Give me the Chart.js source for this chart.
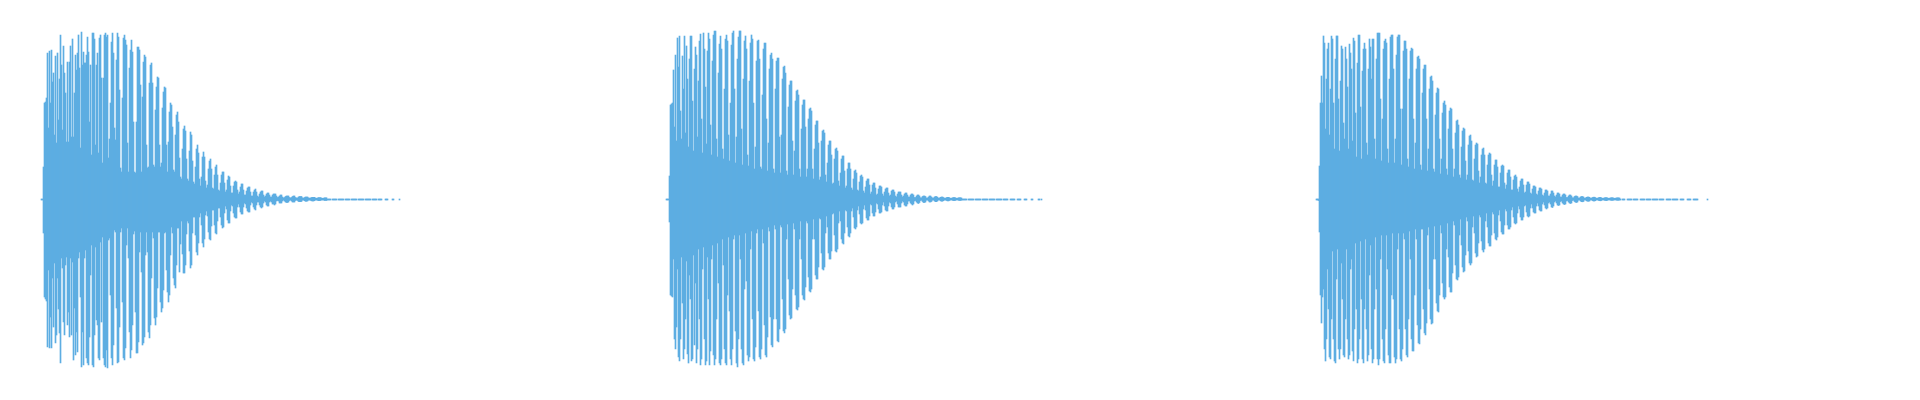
<!DOCTYPE html>
<html>
<head>
<meta charset="utf-8">
<script src="https://cdn.jsdelivr.net/npm/chart.js@4/dist/chart.umd.min.js"></script>
<style>
  html, body { margin: 0; padding: 0; background: #ffffff; }
  #wrap { width: 1920px; height: 400px; }
</style>
</head>
<body>
<div id="wrap"><canvas id="c" width="1920" height="400"></canvas></div>
<script>
// ---- data: three drum hits, per-sample-column peak amplitudes (up = top, down = bottom) ----
const sampleCount = 1920;
const hitStarts = [41, 666, 1316];

const hit1Top = [
0,0,32,96,97,101,146,71,148,96,
149,117,126,64,143,56,146,79,120,164,
134,69,153,126,106,57,137,57,137,153,
62,160,62,106,144,129,146,164,131,51,
167,134,147,136,136,144,162,147,77,134,
44,166,166,160,54,134,146,46,161,164,
121,36,121,164,166,162,164,41,60,96,
157,166,146,71,59,139,166,162,109,31,
27,101,161,164,159,154,56,27,131,149,
159,147,77,27,26,77,152,152,149,114,
27,102,137,144,142,54,31,32,116,134,
136,116,34,32,89,112,122,121,54,32,
36,91,107,112,111,54,27,57,87,96,
94,72,29,27,64,84,87,77,41,22,
20,50,70,73,68,40,20,18,48,67,
64,38,17,15,32,50,54,46,20,13,
22,42,47,42,18,11,14,30,38,40,
30,11,10,24,32,34,24,9,8,16,
24,27,27,16,7,9,19,23,22,13,
6,6,13,17,18,17,9,5,7,12,
15,15,9,4,4,8,11,12,12,7,
3,3,7,9,10,7,3,2,5,7,
8,8,4,2,3,5,6,6,4,2,
2,4,5,5,5,3,1.5,2,3,4,
4,2,1,1.5,2.5,3,3,3,1.5,1,
1.5,2.5,3,3,1.5,1,1,2,2.5,2.5,
2.5,1.2,0.8,1.5,2,2,2,1.2,0.8,1,
1.5,1.7,1.7,1.7,1,0.7,1,1.4,1.4,1.4,
1,0.7,0.8,1.2,1.2,1.2,0,0,0,0,
null,0,0,0,0,0,null,0,0,0,
0,0,0,null,0,0,0,0,0,null,
0,0,0,0,0,0,null,0,0,0,
0,0,0,null,0,0,0,0,0,0,
null,0,0,0,0,0,null,0,0,0,
0,null,null,null,0,0,0,null,null,null,
null,0,0,null,null,null,null,null,0,null
];
const hit1Bottom = [
1,1,34,98,100,102,148,71,149,118,
149,79,128,64,144,136,79,110,134,164,
59,69,123,136,66,58,126,113,138,59,
136,63,161,109,156,133,153,59,53,98,
168,133,166,59,51,159,164,166,138,76,
46,166,168,136,48,121,126,159,161,43,
123,38,159,166,168,151,169,41,39,96,
159,166,146,31,33,109,164,163,128,33,
29,103,159,161,149,46,29,59,133,159,
151,126,35,32,113,154,154,143,53,33,
73,146,144,138,56,33,53,133,139,126,
79,33,39,119,126,118,89,33,33,103,
113,109,91,34,33,71,93,103,96,56,
28,34,79,86,89,66,29,29,73,45,
22,55,74,74,66,35,22,24,52,69,
66,34,18,18,36,53,56,44,18,14,
26,44,48,40,16,12,17,33,40,41,
27,11,11,26,34,35,22,9,9,18,
26,29,28,14,7,10,21,24,24,12,
6,7,14,18,19,19,8,5,8,13,
15,15,8,4,5,9,12,13,13,6,
3,4,8,10,11,6,3,3,6,8,
9,8,4,2,3,6,7,7,3,2,
3,5,5,6,5,2,1.5,2,4,4,
4,2,1,2,3,3.5,3.5,3,1.5,1,
2,3,3,3,1.5,1,1.5,2.5,2.7,2.7,
2.5,1.2,1,1.7,2.3,2.3,2,1.2,1,1.3,
1.8,2,2,1.7,1,1,1.3,1.7,1.7,1.5,
1,1,1,1.5,1.5,1.5,1,1,1,1,
null,1,1,1,1,1,null,1,1,1,
1,1,1,null,1,1,1,1,1,null,
1,1,1,1,1,1,null,1,1,1,
1,1,1,null,1,1,1,1,1,1,
null,1,1,1,1,1,null,1,1,1,
1,null,null,null,1,1,1,null,null,null,
null,1,1,null,null,null,null,null,1,null
];

const hit2Top = [
0,0,0,23,94,95,96,129,72,144,
58,161,132,163,88,60,143,110,163,66,
153,120,52,140,163,163,98,48,130,152,
144,62,118,158,165,80,46,166,150,112,
55,148,166,160,74,44,138,164,168,168,
60,42,126,155,163,150,50,40,110,160,
164,158,64,38,96,154,166,168,110,36,
62,140,162,168,168,70,34,120,158,163,
150,44,33,118,156,164,160,96,30,52,
138,158,159,140,32,30,104,150,156,156,
80,28,56,130,144,146,140,30,26,110,
138,141,141,62,26,64,120,132,133,126,
28,24,92,114,118,118,58,24,48,98,
108,109,104,30,22,70,94,99,99,72,
22,30,80,90,91,88,30,20,50,74,
78,78,56,19,22,58,68,69,66,24,
17,36,54,58,58,44,15,16,40,50,
51,48,18,13,26,40,43,43,28,11,
13,30,36,36,30,11,9,20,28,29,
26,9,8,17,23,24,22,8,6,12,
18,20,20,14,5,7,14,16,16,11,
4,5,10,13,13,12,5,3,7,10,
11,11,6,3,4,8,9,9,7,3,
2,5,7,7,7,4,2,3,5,6,
6,4,2,2,4,5,5,4,1.5,1.5,
3,4,4,3,1.2,1.2,2.5,3,3,2.5,
1,1,2,3,3,2,1,1,2,2.5,
2.5,1.8,0.8,1,1.7,2,2,1.5,0.8,0.8,
1.4,1.7,1.7,1.3,0.7,0.8,1.2,1.5,1.5,1.2,
0.7,0.8,1.2,1.3,1.3,1,0,0,0,0,
0,null,0,0,0,0,0,0,null,0,
0,0,0,0,0,null,0,0,0,0,
0,0,null,0,0,0,0,0,0,null,
0,0,0,0,0,0,null,0,0,0,
0,0,null,null,0,0,0,0,0,null,
null,0,0,0,0,null,null,null,0,0,
0,null,null,null,null,0,0,null,null,null,
null,null,0,0,null,0
];
const hit2Bottom = [
1,1,1,23,96,97,98,60,140,150,
128,70,158,162,140,58,104,160,150,120,
62,155,164,76,100,162,160,56,146,84,
164,150,50,120,166,160,70,48,140,166,
162,58,100,166,152,60,46,156,166,160,
120,44,84,164,166,160,40,66,150,164,
166,96,38,112,160,166,150,40,36,132,
164,168,140,36,60,150,164,166,90,34,
82,156,162,158,50,32,120,160,162,148,
34,30,112,158,160,150,30,44,126,156,
158,138,28,32,118,146,148,120,26,30,
120,142,143,130,26,28,100,132,134,130,
40,25,80,116,120,119,90,24,30,96,
110,111,108,40,22,60,96,100,101,88,
22,24,78,92,93,90,40,20,40,76,
80,80,68,19,20,54,70,71,68,34,
17,28,54,60,60,52,15,14,36,52,
53,50,24,12,22,40,44,45,34,11,
12,28,37,38,34,12,9,18,29,30,
28,11,7,15,24,25,24,10,6,11,
19,21,21,17,5,6,14,17,17,13,
4,5,10,14,14,13,6,3,7,11,
12,12,7,3,4,8,10,10,8,3,
2,5,8,8,8,4,2,3,6,7,
7,5,2,2,4,5,6,5,2,1.5,
3,4,4.5,3.5,1.5,1.2,2.5,3.5,3.5,3,
1.2,1,2,3,3,2.5,1.2,1,2,2.7,
2.7,2,1,1,1.8,2.2,2.2,1.7,1,1,
1.5,1.9,1.9,1.5,1,0.9,1.3,1.6,1.6,1.4,
0.9,0.9,1.3,1.5,1.5,1.2,1,1,1,1,
1,null,1,1,1,1,1,1,null,1,
1,1,1,1,1,null,1,1,1,1,
1,1,null,1,1,1,1,1,1,null,
1,1,1,1,1,1,null,1,1,1,
1,1,null,null,1,1,1,1,1,null,
null,1,1,1,1,null,null,null,1,1,
1,null,null,null,null,1,1,null,null,null,
null,null,1,1,null,1
];

const hit3Top = [
0,0,0,33,96,123,96,163,156,70,
120,150,156,64,110,163,160,96,50,140,
163,163,100,48,118,153,150,76,60,152,
140,112,50,155,146,130,58,161,158,86,
42,136,164,164,92,40,128,150,156,150,
56,44,130,160,152,120,160,160,60,40,
140,166,166,166,100,38,80,150,158,160,
156,50,36,120,162,164,164,130,36,60,
144,162,164,164,90,34,90,148,158,158,
150,40,32,120,148,151,150,80,30,56,
130,142,143,140,34,29,106,130,134,134,
80,28,50,110,122,123,118,30,27,84,
106,111,110,60,25,40,86,96,98,94,
30,24,70,88,91,90,50,22,30,66,
78,79,74,24,21,52,68,71,70,38,
19,24,54,63,64,58,19,18,40,54,
56,55,28,16,22,44,50,51,44,16,
15,34,44,46,45,24,13,18,34,39,
39,32,12,12,26,33,34,33,16,10,
14,26,29,29,22,9,9,19,23,24,
22,10,7,12,18,20,20,14,6,7,
14,17,17,15,6,5,10,13,13,12,
5,4,8,11,11,10,4,3,6,9,
9,8,3,3,5,8,8,6,3,2,
4,6,6,5,2,2,4,5,5,4,
1.5,1.5,3,4,4,3,1.2,1.2,2.5,3,
3,2.5,1,1,2,2.5,2.5,2,0.8,1,
1.7,2,2,1.7,0.8,0.9,1.5,1.8,1.8,1.4,
0.7,0.8,1.3,1.6,1.6,1.2,0.7,0.8,1.2,1.4,
1.4,1.1,0.7,0.8,1.1,1.3,1.3,1,0.7,0.8,
1.1,1.2,1.2,1,0,null,0,0,0,null,
null,0,0,0,0,0,null,0,0,0,
0,0,null,null,0,0,0,0,0,null,
0,0,0,0,0,null,0,0,0,0,
0,0,null,0,0,0,0,0,null,null,
0,0,0,0,0,null,0,0,0,0,
0,0,null,null,0,0,0,0,null,null,
null,0,0,0,0,null,null,0,0,0,
0,0,null,null,null,null,null,null,null,null,
null,0
];
const hit3Bottom = [
1,1,1.5,33,96,124,98,90,150,162,
140,70,110,158,160,120,52,140,162,164,
80,50,150,160,150,64,100,156,158,120,
50,140,160,156,70,60,152,162,130,44,
110,164,160,140,42,100,160,164,110,40,
130,162,156,76,46,150,164,160,110,38,
90,160,166,160,60,36,140,162,164,130,
36,70,156,164,164,96,34,100,158,164,
160,50,34,130,160,162,150,34,40,130,
156,158,120,32,60,140,152,152,96,30,
40,126,144,145,130,30,30,110,134,136,
124,36,28,90,120,125,124,60,27,60,
104,112,113,96,26,34,84,98,100,98,
50,24,58,88,93,93,74,22,26,66,
80,81,78,36,20,46,68,73,72,56,
18,22,52,64,66,64,28,17,34,54,
58,57,44,16,18,42,51,53,50,22,
14,28,44,47,47,36,13,15,34,40,
41,38,16,11,22,33,35,35,26,10,
12,26,30,30,28,11,8,18,24,25,
24,14,7,10,18,21,21,18,7,6,
13,17,18,17,9,5,9,13,14,14,
7,4,7,11,12,12,5,3,6,9,
10,9,4,3,5,8,8.5,7,3,2,
4,6,6.5,6,2.5,2,4,5,5.5,5,
2,1.5,3,4,4.5,4,1.5,1.2,2.5,3.2,
3.5,3,1.2,1,2,2.7,2.8,2.5,1,1,
1.8,2.2,2.3,2,1,0.9,1.6,2,2,1.7,
0.9,0.9,1.4,1.7,1.8,1.5,0.9,0.9,1.3,1.5,
1.6,1.3,0.9,0.9,1.2,1.4,1.4,1.2,0.9,0.9,
1.2,1.3,1.3,1.1,1,null,1,1,1,null,
null,1,1,1,1,1,null,1,1,1,
1,1,null,null,1,1,1,1,1,null,
1,1,1,1,1,null,1,1,1,1,
1,1,null,1,1,1,1,1,null,null,
1,1,1,1,1,null,1,1,1,1,
1,1,null,null,1,1,1,1,null,null,
null,1,1,1,1,null,null,1,1,1,
1,1,null,null,null,null,null,null,null,null,
null,1
];

// ---- assemble the series from the arrays ----
const hitTops = [hit1Top, hit2Top, hit3Top];
const hitBottoms = [hit1Bottom, hit2Bottom, hit3Bottom];
const sampleLabels = Array.from({ length: sampleCount }, (_, i) => String(i));
const waveValues = new Array(sampleCount).fill(null);
hitStarts.forEach((start, h) => {
  hitTops[h].forEach((t, i) => {
    const b = hitBottoms[h][i];
    if (t !== null && b !== null && start + i < sampleCount) {
      waveValues[start + i] = [-b, t];
    }
  });
});

new Chart(document.getElementById('c'), {
  type: 'bar',
  data: {
    labels: sampleLabels,
    datasets: [{
      data: waveValues,
      backgroundColor: '#5DADE2',
      borderWidth: 0,
      barPercentage: 1.0,
      categoryPercentage: 1.0
    }]
  },
  options: {
    responsive: false,
    devicePixelRatio: 1,
    animation: false,
    events: [],
    layout: { padding: { top: 29, bottom: 31, left: 0, right: 0 } },
    plugins: { legend: { display: false }, tooltip: { enabled: false } },
    scales: {
      x: { display: false, grid: { display: false } },
      y: { display: false, min: -170, max: 170, grid: { display: false } }
    }
  }
});
</script>
</body>
</html>
